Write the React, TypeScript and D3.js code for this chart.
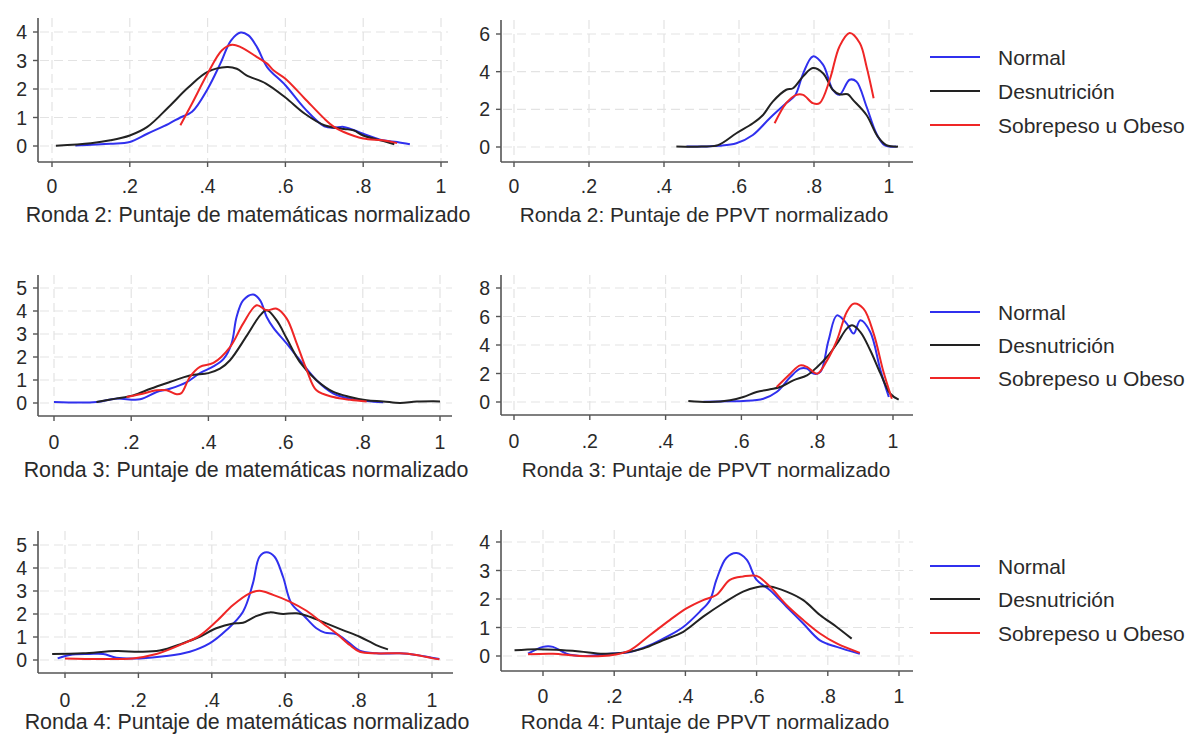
import React from "react";
import * as d3 from "d3";

type Pt = [number, number];

const seriesNames = ["Normal", "Desnutrición", "Sobrepeso u Obeso"];
const seriesColors = ["#3030ee", "#222222", "#ef2626"];
const xTicks = [0, 0.2, 0.4, 0.6, 0.8, 1];
const panelTitles = [
  "Ronda 2: Puntaje de matemáticas normalizado",
  "Ronda 2: Puntaje de PPVT normalizado",
  "Ronda 3: Puntaje de matemáticas normalizado",
  "Ronda 3: Puntaje de PPVT normalizado",
  "Ronda 4: Puntaje de matemáticas normalizado",
  "Ronda 4: Puntaje de PPVT normalizado",
];
const yTicksR2Math = [0, 1, 2, 3, 4];
const yTicksR2Ppvt = [0, 2, 4, 6];
const yTicksR3Math = [0, 1, 2, 3, 4, 5];
const yTicksR3Ppvt = [0, 2, 4, 6, 8];
const yTicksR4Math = [0, 1, 2, 3, 4, 5];
const yTicksR4Ppvt = [0, 1, 2, 3, 4];

// Ronda 2 matemáticas
const r2MathNormal: Pt[] = [[0.06,0.02],[0.15,0.08],[0.2,0.14],[0.245,0.43],[0.3,0.78],[0.33,1.0],[0.36,1.2],[0.4,2.0],[0.433,2.9],[0.46,3.7],[0.485,3.98],[0.505,3.88],[0.527,3.47],[0.553,2.77],[0.6,2.13],[0.65,1.31],[0.7,0.69],[0.725,0.64],[0.75,0.67],[0.8,0.43],[0.85,0.2],[0.887,0.14],[0.92,0.06]];
const r2MathDesn: Pt[] = [[0.01,0.01],[0.1,0.1],[0.15,0.2],[0.2,0.37],[0.245,0.67],[0.3,1.37],[0.35,2.05],[0.4,2.6],[0.45,2.77],[0.475,2.71],[0.5,2.48],[0.55,2.19],[0.6,1.7],[0.65,1.13],[0.7,0.73],[0.75,0.6],[0.775,0.55],[0.8,0.37],[0.85,0.18],[0.88,0.06]];
const r2MathSobre: Pt[] = [[0.33,0.73],[0.36,1.49],[0.4,2.54],[0.437,3.36],[0.463,3.55],[0.485,3.47],[0.527,3.12],[0.553,2.89],[0.57,2.65],[0.6,2.36],[0.65,1.66],[0.7,0.96],[0.725,0.67],[0.75,0.49],[0.8,0.26],[0.85,0.2],[0.887,0.1]];
// Ronda 2 PPVT
const r2PpvtNormal: Pt[] = [[0.46,0.02],[0.548,0.07],[0.593,0.2],[0.637,0.64],[0.682,1.53],[0.726,2.33],[0.75,2.75],[0.771,3.9],[0.797,4.81],[0.824,4.37],[0.85,3.04],[0.868,2.77],[0.895,3.57],[0.913,3.48],[0.94,2.15],[0.966,0.73],[0.988,0.1],[1.02,0.02]];
const r2PpvtDesn: Pt[] = [[0.433,0.02],[0.5,0.02],[0.544,0.1],[0.593,0.73],[0.637,1.26],[0.664,1.7],[0.69,2.41],[0.726,3.04],[0.744,3.12],[0.771,3.75],[0.797,4.19],[0.824,3.92],[0.85,3.04],[0.868,2.8],[0.89,2.8],[0.904,2.5],[0.94,1.7],[0.97,0.55],[0.993,0.1],[1.024,0.02]];
const r2PpvtSobre: Pt[] = [[0.695,1.26],[0.726,2.33],[0.753,2.77],[0.771,2.77],[0.797,2.33],[0.815,2.33],[0.842,3.57],[0.868,5.34],[0.895,6.05],[0.922,5.52],[0.94,4.28],[0.959,2.59]];
// Ronda 3 matemáticas
const r3MathNormal: Pt[] = [[0,0.04],[0.11,0.04],[0.16,0.19],[0.223,0.16],[0.266,0.48],[0.3,0.62],[0.344,0.91],[0.378,1.3],[0.413,1.59],[0.44,1.93],[0.46,2.58],[0.473,3.74],[0.49,4.46],[0.516,4.72],[0.534,4.46],[0.551,3.74],[0.568,3.28],[0.603,2.58],[0.637,1.86],[0.68,0.99],[0.724,0.41],[0.767,0.19],[0.81,0.09],[0.853,0.03]];
const r3MathDesn: Pt[] = [[0.11,0.04],[0.16,0.19],[0.205,0.33],[0.25,0.62],[0.3,0.91],[0.352,1.2],[0.4,1.3],[0.43,1.49],[0.456,1.86],[0.5,2.94],[0.534,3.81],[0.551,4.03],[0.577,3.59],[0.603,2.8],[0.637,1.78],[0.68,0.99],[0.724,0.48],[0.767,0.26],[0.81,0.12],[0.853,0.07],[0.896,0.0],[0.94,0.06],[1.0,0.07]];
const r3MathSobre: Pt[] = [[0.188,0.26],[0.223,0.38],[0.266,0.55],[0.292,0.55],[0.318,0.38],[0.33,0.43],[0.352,1.13],[0.378,1.57],[0.413,1.74],[0.456,2.43],[0.49,3.45],[0.525,4.25],[0.551,4.03],[0.577,4.1],[0.603,3.67],[0.629,2.58],[0.655,1.42],[0.68,0.55],[0.724,0.26],[0.767,0.14],[0.81,0.07]];
// Ronda 3 PPVT
const r3PpvtNormal: Pt[] = [[0.5,0.02],[0.57,0.05],[0.605,0.07],[0.658,0.23],[0.693,0.7],[0.729,1.75],[0.755,2.34],[0.773,2.34],[0.79,1.99],[0.808,2.1],[0.83,4.33],[0.852,6.08],[0.878,5.5],[0.896,4.8],[0.914,5.73],[0.94,4.91],[0.967,2.22],[0.989,0.35]];
const r3PpvtDesn: Pt[] = [[0.46,0.07],[0.517,0],[0.57,0.12],[0.605,0.35],[0.64,0.7],[0.676,0.89],[0.702,1.05],[0.737,1.52],[0.773,1.87],[0.8,2.46],[0.826,3.16],[0.852,4.09],[0.878,5.15],[0.892,5.38],[0.914,4.91],[0.94,3.63],[0.967,1.99],[0.993,0.58],[1.015,0.16]];
const r3PpvtSobre: Pt[] = [[0.693,1.05],[0.729,1.99],[0.755,2.57],[0.773,2.46],[0.8,1.99],[0.826,2.92],[0.852,4.33],[0.878,6.32],[0.896,6.9],[0.922,6.55],[0.949,4.8],[0.975,2.1],[0.997,0.23]];
// Ronda 4 matemáticas
const r4MathNormal: Pt[] = [[-0.02,0.07],[0.013,0.22],[0.067,0.26],[0.104,0.26],[0.14,0.1],[0.203,0.07],[0.276,0.17],[0.34,0.36],[0.394,0.72],[0.44,1.3],[0.485,2.1],[0.512,3.33],[0.53,4.49],[0.549,4.68],[0.571,4.49],[0.594,3.62],[0.617,2.46],[0.649,1.96],[0.685,1.38],[0.708,1.19],[0.739,1.13],[0.776,0.72],[0.803,0.41],[0.848,0.29],[0.912,0.29],[0.957,0.22],[1.02,0.04]];
const r4MathDesn: Pt[] = [[-0.035,0.26],[0.049,0.29],[0.14,0.39],[0.203,0.36],[0.258,0.41],[0.32,0.72],[0.367,1.01],[0.412,1.38],[0.458,1.59],[0.485,1.62],[0.521,1.91],[0.558,2.07],[0.594,2.0],[0.63,2.03],[0.667,1.88],[0.712,1.59],[0.757,1.3],[0.803,1.01],[0.848,0.65],[0.88,0.46]];
const r4MathSobre: Pt[] = [[0,0.07],[0.094,0.04],[0.185,0.07],[0.249,0.26],[0.32,0.7],[0.367,1.06],[0.412,1.67],[0.458,2.39],[0.503,2.9],[0.53,3.01],[0.567,2.83],[0.612,2.54],[0.658,2.14],[0.703,1.59],[0.739,1.16],[0.776,0.65],[0.803,0.36],[0.848,0.29],[0.912,0.29],[0.957,0.22],[1.003,0.07],[1.02,0.03]];
// Ronda 4 PPVT
const r4PpvtNormal: Pt[] = [[-0.042,0.08],[0,0.32],[0.028,0.32],[0.066,0.08],[0.112,0.0],[0.187,0.08],[0.244,0.14],[0.3,0.38],[0.347,0.67],[0.394,1.02],[0.44,1.55],[0.469,1.96],[0.487,2.67],[0.515,3.44],[0.544,3.61],[0.572,3.38],[0.6,2.67],[0.637,2.32],[0.684,1.73],[0.731,1.14],[0.778,0.55],[0.825,0.32],[0.89,0.08]];
const r4PpvtDesn: Pt[] = [[-0.08,0.2],[-0.019,0.24],[0.037,0.22],[0.103,0.16],[0.169,0.08],[0.225,0.11],[0.281,0.26],[0.337,0.55],[0.394,0.85],[0.45,1.38],[0.506,1.85],[0.562,2.26],[0.6,2.41],[0.637,2.44],[0.684,2.26],[0.731,1.96],[0.778,1.44],[0.825,1.02],[0.867,0.61]];
const r4PpvtSobre: Pt[] = [[-0.042,0.06],[0.028,0.08],[0.103,0],[0.187,0.02],[0.244,0.2],[0.3,0.73],[0.356,1.26],[0.403,1.67],[0.45,1.96],[0.487,2.14],[0.525,2.67],[0.562,2.79],[0.6,2.81],[0.637,2.44],[0.684,1.79],[0.731,1.26],[0.778,0.79],[0.825,0.44],[0.89,0.11]];

interface Layout {
  left: number; right: number; top: number; bottom: number;
  x0: number; x1: number; yBase: number; yTop: number;
  tickBase: number; titleBase: number; titleX: number; titleSize: number;
}

const layouts: Layout[] = [
  { left: 38, right: 448, top: 18, bottom: 162, x0: 52, x1: 441, yBase: 146, yTop: 32, tickBase: 193, titleBase: 222, titleX: 248, titleSize: 21.4 },
  { left: 501, right: 913, top: 20, bottom: 162, x0: 514, x1: 889, yBase: 147, yTop: 34, tickBase: 193, titleBase: 222, titleX: 704, titleSize: 20.8 },
  { left: 38, right: 452, top: 275, bottom: 416, x0: 54, x1: 440, yBase: 403, yTop: 288, tickBase: 449, titleBase: 477, titleX: 246, titleSize: 21.4 },
  { left: 501, right: 913, top: 275, bottom: 415, x0: 514, x1: 893, yBase: 402, yTop: 288, tickBase: 448, titleBase: 477, titleX: 706, titleSize: 20.8 },
  { left: 38, right: 453, top: 531, bottom: 673, x0: 65, x1: 432, yBase: 660, yTop: 545, tickBase: 707, titleBase: 729, titleX: 247, titleSize: 21.4 },
  { left: 501, right: 913, top: 530, bottom: 671, x0: 543, x1: 899, yBase: 656, yTop: 542, tickBase: 703, titleBase: 729, titleX: 705, titleSize: 20.8 },
];

const panelData: { series: Pt[][]; yTicks: number[] }[] = [
  { series: [r2MathNormal, r2MathDesn, r2MathSobre], yTicks: yTicksR2Math },
  { series: [r2PpvtNormal, r2PpvtDesn, r2PpvtSobre], yTicks: yTicksR2Ppvt },
  { series: [r3MathNormal, r3MathDesn, r3MathSobre], yTicks: yTicksR3Math },
  { series: [r3PpvtNormal, r3PpvtDesn, r3PpvtSobre], yTicks: yTicksR3Ppvt },
  { series: [r4MathNormal, r4MathDesn, r4MathSobre], yTicks: yTicksR4Math },
  { series: [r4PpvtNormal, r4PpvtDesn, r4PpvtSobre], yTicks: yTicksR4Ppvt },
];

const legendRows = [
  [57, 91, 125],
  [312, 345, 378],
  [566, 599, 633],
];

const FONT = "'Liberation Sans', Arial, Helvetica, sans-serif";
const AXIS = "#555555";
const TEXT = "#2a2a2a";
const GRID = "#e3e3e3";

const fmtX = (v: number) => (v === 0 ? "0" : v === 1 ? "1" : d3.format(".1f")(v).replace(/^0/, ""));

function Panel({ idx }: { idx: number }) {
  const L = layouts[idx];
  const { series, yTicks } = panelData[idx];
  const yMax = yTicks[yTicks.length - 1];
  const x = d3.scaleLinear().domain([0, 1]).range([L.x0, L.x1]);
  const y = d3.scaleLinear().domain([0, yMax]).range([L.yBase, L.yTop]);
  const line = d3
    .line<Pt>()
    .x((d) => x(d[0]))
    .y((d) => y(d[1]))
    .curve(d3.curveCatmullRom.alpha(0.5));
  return (
    <g>
      {yTicks.map((t) => (
        <line key={"gy" + t} x1={L.left + 2} x2={L.right} y1={y(t)} y2={y(t)} stroke={GRID} strokeWidth={1.2} strokeDasharray="9,5" />
      ))}
      {xTicks.map((t) => (
        <line key={"gx" + t} x1={x(t)} x2={x(t)} y1={L.top} y2={L.bottom - 1} stroke={GRID} strokeWidth={1.2} strokeDasharray="9,5" />
      ))}
      {series.map((s, i) => (
        <path key={"s" + i} d={line(s) || ""} fill="none" stroke={seriesColors[i]} strokeWidth={2} strokeLinejoin="round" />
      ))}
      <line x1={L.left} x2={L.left} y1={L.top} y2={L.bottom} stroke={AXIS} strokeWidth={1.6} />
      <line x1={L.left} x2={L.right} y1={L.bottom} y2={L.bottom} stroke={AXIS} strokeWidth={1.6} />
      {yTicks.map((t) => (
        <g key={"ty" + t}>
          <line x1={L.left - 5} x2={L.left} y1={y(t)} y2={y(t)} stroke={AXIS} strokeWidth={1.4} />
          <text x={L.left - 11} y={y(t)} dy="0.36em" textAnchor="end" fontSize={19.5} fill={TEXT} fontFamily={FONT}>
            {t}
          </text>
        </g>
      ))}
      {xTicks.map((t) => (
        <g key={"tx" + t}>
          <line x1={x(t)} x2={x(t)} y1={L.bottom} y2={L.bottom + 5} stroke={AXIS} strokeWidth={1.4} />
          <text x={x(t)} y={L.tickBase} textAnchor="middle" fontSize={19.5} fill={TEXT} fontFamily={FONT}>
            {fmtX(t)}
          </text>
        </g>
      ))}
      <text x={L.titleX} y={L.titleBase} textAnchor="middle" fontSize={L.titleSize} fill={TEXT} fontFamily={FONT}>
        {panelTitles[idx]}
      </text>
    </g>
  );
}

function Legend({ rows }: { rows: number[] }) {
  return (
    <g>
      {seriesNames.map((n, i) => (
        <g key={n}>
          <line x1={930} x2={980} y1={rows[i]} y2={rows[i]} stroke={seriesColors[i]} strokeWidth={2} />
          <text x={998} y={rows[i]} dy="0.36em" fontSize={21} fill={TEXT} fontFamily={FONT}>
            {n}
          </text>
        </g>
      ))}
    </g>
  );
}

export default function App() {
  return (
    <svg
      width={1188}
      height={738}
      viewBox="0 0 1188 738"
      style={{ position: "absolute", left: 0, top: 0, background: "#ffffff" }}
    >
      <rect x={0} y={0} width={1188} height={738} fill="#ffffff" />
      {layouts.map((_, i) => (
        <Panel key={i} idx={i} />
      ))}
      {legendRows.map((r, i) => (
        <Legend key={i} rows={r} />
      ))}
    </svg>
  );
}
